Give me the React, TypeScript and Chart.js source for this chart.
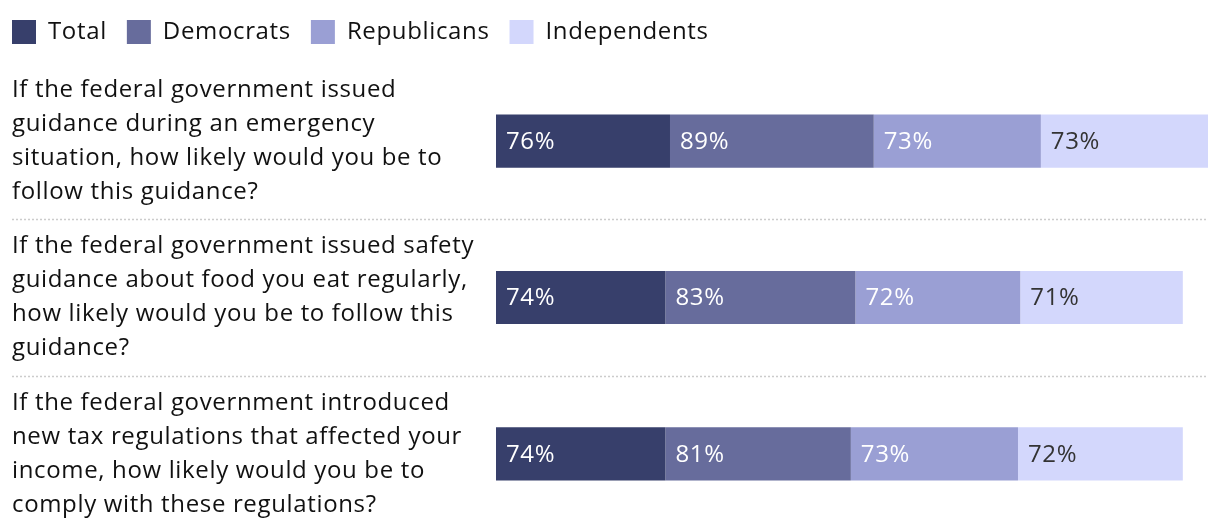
import React, { useEffect, useRef } from "react";
import { Chart, registerables } from "chart.js";

Chart.register(...registerables);

const categories: string[][] = [
  ["If the federal government issued", "guidance during an emergency", "situation, how likely would you be to", "follow this guidance?"],
  ["If the federal government issued safety", "guidance about food you eat regularly,", "how likely would you be to follow this", "guidance?"],
  ["If the federal government introduced", "new tax regulations that affected your", "income, how likely would you be to", "comply with these regulations?"],
];

const seriesNames = ["Total", "Democrats", "Republicans", "Independents"];
const total = [76, 74, 74];
const democrats = [89, 83, 81];
const republicans = [73, 72, 73];
const independents = [73, 71, 72];

const colors = ["#373f6b", "#676c9c", "#9a9fd4", "#d3d7fc"];
const labelColors = ["#ffffff", "#ffffff", "#ffffff", "#333333"];

const FONT = "'Open Sans', Lato, sans-serif";
const LETTER_SPACING = "0.65px";

export default function App() {
  const ref = useRef<HTMLCanvasElement | null>(null);

  useEffect(() => {
    document.body.style.margin = "0";
    const values = [total, democrats, republicans, independents];
    const sums = categories.map((_, i) => values.reduce((s, v) => s + v[i], 0));
    const maxSum = Math.max(...sums);

    const spacing = {
      id: "spacing",
      beforeUpdate(chart: any) {
        (chart.ctx as any).letterSpacing = LETTER_SPACING;
      },
      beforeDraw(chart: any) {
        (chart.ctx as any).letterSpacing = LETTER_SPACING;
      },
    };

    const valueLabels = {
      id: "valueLabels",
      afterDatasetsDraw(chart: any) {
        const ctx = chart.ctx;
        ctx.save();
        ctx.font = `24px ${FONT}`;
        ctx.textBaseline = "middle";
        ctx.textAlign = "left";
        chart.data.datasets.forEach((ds: any, di: number) => {
          const meta = chart.getDatasetMeta(di);
          meta.data.forEach((bar: any, i: number) => {
            const left = Math.min(bar.x, bar.base);
            ctx.fillStyle = labelColors[di];
            ctx.fillText(`${ds.data[i]}%`, left + 10, bar.y + 1);
          });
        });
        ctx.restore();
      },
    };

    const separators = {
      id: "separators",
      beforeDatasetsDraw(chart: any) {
        const ctx = chart.ctx;
        const y = chart.scales.y;
        ctx.save();
        ctx.strokeStyle = "#cccccc";
        ctx.lineWidth = 1.5;
        ctx.setLineDash([2, 2]);
        for (let i = 0; i < categories.length - 1; i++) {
          const yy = Math.round((y.getPixelForValue(i) + y.getPixelForValue(i + 1)) / 2) + 0.5;
          ctx.beginPath();
          ctx.moveTo(12, yy);
          ctx.lineTo(chart.chartArea.right, yy);
          ctx.stroke();
        }
        ctx.restore();
      },
    };

    const legendShift = {
      id: "legendShift",
      afterLayout(chart: any) {
        const lg = chart.legend;
        if (lg) {
          lg.left -= 20;
          lg.top -= 9;
        }
      },
    };

    const chart = new Chart(ref.current as HTMLCanvasElement, {
      type: "bar",
      data: {
        labels: categories,
        datasets: values.map((v, i) => ({
          label: seriesNames[i],
          data: v,
          backgroundColor: colors[i],
          borderWidth: 0,
          categoryPercentage: 1,
          barPercentage: 0.34,
        })),
      },
      options: {
        indexAxis: "y",
        animation: false,
        responsive: false,
        maintainAspectRatio: false,
        layout: { padding: { left: 12, right: 12, top: 9, bottom: 0 } },
        plugins: {
          legend: {
            position: "top",
            align: "start",
            labels: {
              boxWidth: 24,
              boxHeight: 24,
              padding: 20,
              color: "#111111",
              font: { family: FONT, size: 24 },
            },
          },
          tooltip: { enabled: false },
        },
        scales: {
          x: {
            stacked: true,
            display: false,
            min: 0,
            max: maxSum,
          },
          y: {
            stacked: true,
            grid: { display: false },
            border: { display: false },
            ticks: {
              crossAlign: "far",
              color: "#111111",
              font: { family: FONT, size: 24, lineHeight: 1.42 },
              padding: 0,
            },
            afterFit(scale: any) {
              scale.width = 484;
              scale.paddingTop = 0;
              scale.paddingBottom = 0;
            },
          },
        },
      },
      plugins: [spacing, separators, valueLabels, legendShift],
    } as any);
    return () => chart.destroy();
  }, []);

  return (
    <div style={{ width: 1220, height: 532 }}>
      <canvas ref={ref} width={1220} height={532} style={{ display: "block" }} />
    </div>
  );
}
